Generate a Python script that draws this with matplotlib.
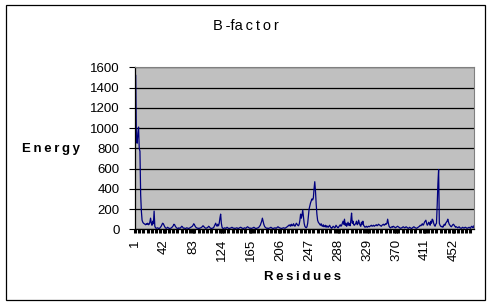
import numpy as np
import matplotlib
matplotlib.use("Agg")
import matplotlib.pyplot as plt
from matplotlib.patches import Rectangle

plt.rcParams['font.family'] = ['Liberation Sans', 'DejaVu Sans']

# B-factor per residue
bfactor = [
    1540, 1520, 880, 850, 950, 1010, 800, 770, 340, 180, 90, 70, 60, 55, 50, 45, 55, 50, 60, 45,
    50, 70, 110, 60, 40, 80, 55, 180, 30, 15, 10, 12, 15, 10, 8, 12, 20, 30, 45, 60,
    55, 40, 25, 15, 10, 12, 20, 15, 10, 8, 10, 12, 18, 25, 35, 50, 45, 30, 20, 12,
    10, 8, 15, 10, 12, 20, 30, 25, 15, 10, 12, 8, 10, 15, 12, 10, 8, 12, 15, 20,
    25, 30, 40, 55, 45, 30, 20, 15, 10, 12, 8, 10, 12, 15, 20, 25, 35, 30, 20, 15,
    10, 12, 15, 20, 30, 25, 15, 10, 8, 10, 12, 15, 30, 45, 60, 40, 30, 50, 35, 60,
    110, 150, 60, 20, 10, 8, 12, 15, 10, 12, 20, 15, 10, 8, 10, 12, 15, 20, 15, 10,
    12, 8, 10, 12, 15, 10, 8, 12, 15, 20, 18, 12, 10, 8, 12, 15, 10, 12, 20, 25,
    20, 15, 10, 12, 8, 10, 12, 15, 20, 15, 10, 8, 10, 12, 15, 20, 30, 40, 60, 80,
    110, 80, 50, 30, 20, 15, 10, 12, 8, 10, 12, 15, 20, 15, 10, 8, 10, 12, 15, 10,
    12, 20, 25, 20, 15, 12, 10, 8, 10, 12, 15, 12, 10, 15, 20, 25, 30, 40, 35, 45,
    30, 50, 40, 35, 55, 40, 30, 45, 60, 50, 40, 35, 50, 90, 150, 110, 140, 190, 120, 60,
    30, 20, 15, 25, 60, 130, 200, 230, 260, 280, 300, 290, 310, 400, 470, 380, 250, 150, 90, 70,
    60, 50, 40, 55, 35, 30, 45, 25, 30, 40, 20, 35, 25, 20, 30, 40, 25, 15, 10, 20,
    30, 25, 15, 20, 40, 30, 20, 15, 25, 35, 45, 30, 40, 60, 80, 50, 100, 40, 60, 30,
    45, 70, 40, 55, 35, 90, 160, 60, 80, 45, 40, 50, 60, 80, 45, 55, 90, 60, 40, 30,
    70, 50, 80, 40, 30, 20, 25, 30, 20, 25, 30, 25, 30, 35, 40, 30, 35, 40, 30, 35,
    40, 45, 35, 40, 50, 45, 40, 35, 30, 40, 45, 50, 40, 45, 55, 50, 60, 100, 60, 30,
    20, 15, 20, 25, 20, 30, 25, 20, 15, 20, 25, 30, 25, 20, 15, 10, 12, 15, 20, 25,
    20, 15, 18, 25, 20, 15, 10, 12, 20, 15, 10, 8, 15, 20, 25, 20, 15, 12, 10, 15,
    20, 25, 30, 40, 35, 45, 55, 40, 50, 70, 80, 90, 60, 40, 50, 70, 60, 40, 80, 60,
    100, 90, 60, 40, 30, 50, 60, 240, 450, 590, 60, 40, 30, 25, 30, 20, 35, 50, 40, 60,
    70, 80, 100, 70, 50, 40, 30, 25, 35, 45, 50, 40, 30, 20, 25, 20, 15, 20, 25, 15,
    12, 10, 15, 20, 15, 12, 18, 20, 15, 10, 12, 15, 20, 15, 10, 25, 30, 20, 15, 35,
]
residues = np.arange(1, len(bfactor) + 1)
xtick_labels = [1, 42, 83, 124, 165, 206, 247, 288, 329, 370, 411, 452]
yticks = [0, 200, 400, 600, 800, 1000, 1200, 1400, 1600]

fig = plt.figure(figsize=(4.92, 3.05), dpi=100)
fig.patch.set_facecolor('white')
# outer chart border
fig.patches.append(Rectangle((6 / 492, 5 / 305), 479 / 492, 295 / 305,
                             transform=fig.transFigure, fill=False,
                             edgecolor='black', linewidth=0.9))

ax = fig.add_axes([135 / 492, (305 - 229.3) / 305, 339 / 492, 162 / 305])
ax.set_facecolor('#C0C0C0')
ax.plot(residues, bfactor, color='#000080', linewidth=0.9)

ax.set_xlim(1, len(bfactor))
ax.set_ylim(0, 1600)
ax.set_yticks(yticks)
ax.yaxis.grid(True, color='black', linewidth=0.9)
ax.set_axisbelow(True)

ax.set_xticks(xtick_labels)
ax.set_xticklabels([str(v) for v in xtick_labels], rotation=90)
ax.set_xticks(np.arange(1, len(bfactor) + 1, 6), minor=True)
ax.tick_params(axis='x', which='both', length=3, width=2.2, direction='out',
               pad=4, labelsize=9.5, color='black')
ax.tick_params(axis='y', length=4, width=0.8, pad=7, labelsize=9.5)

for s in ['left', 'bottom']:
    ax.spines[s].set_color('black')
    ax.spines[s].set_linewidth(0.9)
for s in ['top', 'right']:
    ax.spines[s].set_color('#808080')
    ax.spines[s].set_linewidth(0.8)

fig.text(246 / 492, (305 - 26) / 305, 'B\u2009-fa\u2009c\u2009t\u2009o\u2009r', ha='center', va='center', fontsize=10.5)
fig.text(51 / 492, (305 - 149) / 305, 'E\u2009n\u2009e\u2009r\u2009g\u2009y', ha='center', va='center',
         fontsize=9.5, fontweight='bold')
fig.text(303 / 492, (305 - 277) / 305, 'R\u2009e\u2009s\u2009i\u2009d\u2009u\u2009e\u2009s', ha='center', va='center',
         fontsize=9.5, fontweight='bold')

fig.savefig('out.png', dpi=100, facecolor='white')
